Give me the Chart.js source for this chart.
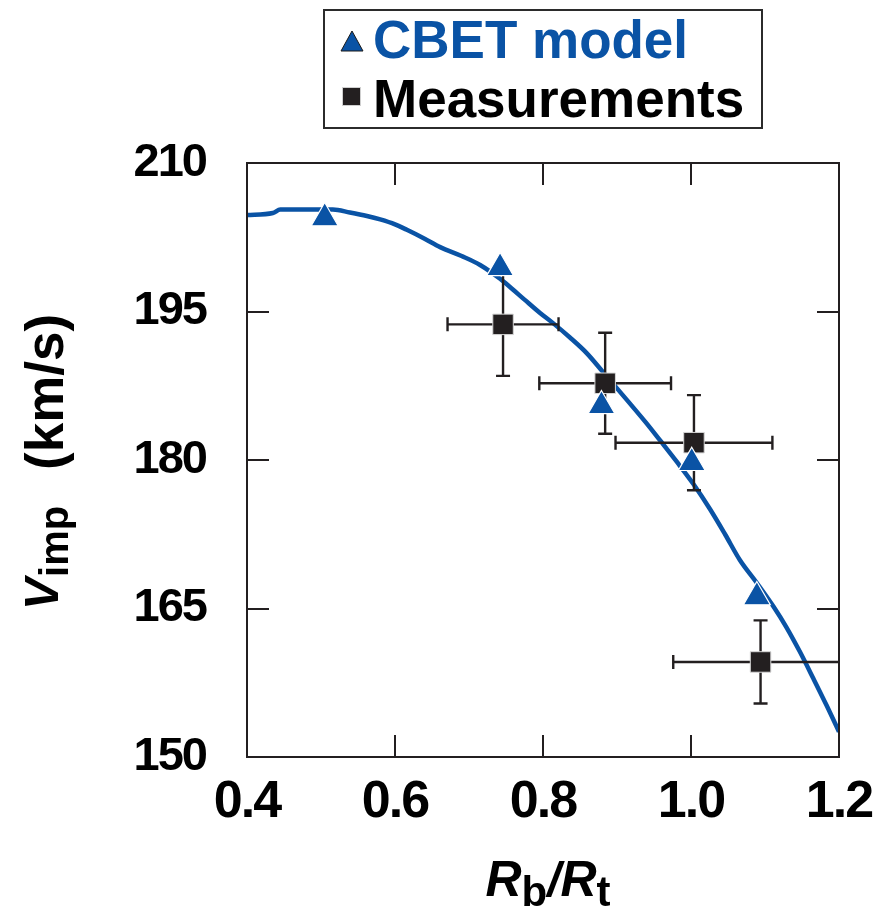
<!DOCTYPE html>
<html>
<head>
<meta charset="utf-8">
<script src="https://cdn.jsdelivr.net/npm/chart.js@4.4.1/dist/chart.umd.min.js"></script>
<style>
  html, body { margin: 0; padding: 0; background: #ffffff; }
  #wrap { position: relative; width: 877px; height: 911px; }
  #legend {
    position: absolute; left: 323px; top: 9px; width: 440px; height: 120px;
    border: 2px solid #2b2b2b; box-sizing: border-box; background: #fff;
    font-family: "Liberation Sans", Arial, Helvetica, sans-serif; font-weight: bold; font-size: 53px;
  }
  #legend .txt { position: absolute; left: 48px; line-height: 53px; white-space: nowrap; }
  #legend svg { position: absolute; }
</style>
</head>
<body>
<div id="wrap">
  <canvas id="c" width="877" height="911"></canvas>
  <div id="legend">
    <svg style="left:15px; top:19px;" width="24" height="22" viewBox="0 0 24 22"><polygon points="12,1 23,21 1,21" fill="#0a53a5" stroke="#1b1b1b" stroke-width="1"/></svg>
    <span class="txt" style="top:2px; color:#0a53a5;">CBET model</span>
    <svg style="left:17px; top:76px;" width="19" height="19" viewBox="0 0 19 19"><rect x="0.5" y="0.5" width="18" height="18" fill="#231f20" stroke="#cfcfcf" stroke-width="1"/></svg>
    <span class="txt" style="top:61px; color:#000;">Measurements</span>
  </div>
</div>
<script>
// ---------------- data ----------------
const curveX = [0.400, 0.435, 0.445, 0.480, 0.516, 0.539, 0.562, 0.580, 0.600, 0.616, 0.640, 0.661, 0.690, 0.715, 0.742, 0.755, 0.775, 0.796, 0.814, 0.836, 0.859, 0.881, 0.913, 0.940, 0.958, 0.981, 1.003, 1.026, 1.046, 1.066, 1.089, 1.111, 1.129, 1.147, 1.165, 1.183, 1.200];
const curveY = [204.75, 204.95, 205.30, 205.30, 205.30, 205.00, 204.65, 204.30, 203.80, 203.25, 202.35, 201.50, 200.60, 199.70, 198.30, 197.50, 196.20, 194.85, 193.80, 192.40, 190.80, 188.90, 186.10, 183.70, 182.00, 179.80, 177.60, 175.00, 172.50, 169.90, 167.58, 165.25, 163.10, 160.65, 157.98, 155.25, 152.55];

const cbetX = [0.505, 0.742, 0.879, 1.001, 1.089];
const cbetY = [204.44, 199.40, 185.46, 179.72, 166.16];

const measX = [0.746, 0.884, 1.004, 1.094];
const measY = [193.70, 187.75, 181.75, 159.60];
const measXErr = [0.075, 0.089, 0.106, 0.118];
const measYErr = [5.2, 5.1, 4.8, 4.2];

const xTickValues = [0.4, 0.6, 0.8, 1.0, 1.2];
const yTickValues = [150, 165, 180, 195, 210];

// ---------------- styling ----------------
const BLUE = '#0a53a5';
const DARK = '#231f20';
const FONT = '"Liberation Sans", Arial, Helvetica, sans-serif';

const toPts = (xs, ys) => xs.map((x, i) => ({ x: x, y: ys[i] }));

const spacingPlugin = {
  id: 'tickSpacing',
  beforeDraw(chart) { chart.ctx.letterSpacing = '-2px'; },
  beforeDatasetsDraw(chart) { chart.ctx.letterSpacing = '0px'; }
};

const errorBarPlugin = {
  id: 'errorBars',
  beforeDatasetDraw(chart, args) {
    if (args.index !== 1) return;
    const { ctx, chartArea: a, scales: { x, y } } = chart;
    ctx.save();
    ctx.beginPath();
    ctx.rect(a.left, a.top, a.right - a.left, a.bottom - a.top);
    ctx.clip();
    ctx.strokeStyle = DARK;
    ctx.lineWidth = 2.4;
    const cap = 7;
    measX.forEach((mx, i) => {
      const px = x.getPixelForValue(mx), py = y.getPixelForValue(measY[i]);
      const xl = x.getPixelForValue(mx - measXErr[i]), xr = x.getPixelForValue(mx + measXErr[i]);
      const yt = y.getPixelForValue(measY[i] + measYErr[i]), yb = y.getPixelForValue(measY[i] - measYErr[i]);
      ctx.beginPath();
      ctx.moveTo(xl, py); ctx.lineTo(xr, py);
      ctx.moveTo(xl, py - cap); ctx.lineTo(xl, py + cap);
      ctx.moveTo(xr, py - cap); ctx.lineTo(xr, py + cap);
      ctx.moveTo(px, yt); ctx.lineTo(px, yb);
      ctx.moveTo(px - cap, yt); ctx.lineTo(px + cap, yt);
      ctx.moveTo(px - cap, yb); ctx.lineTo(px + cap, yb);
      ctx.stroke();
    });
    ctx.restore();
  }
};

const framePlugin = {
  id: 'frame',
  afterDraw(chart) {
    const { ctx, chartArea: a, scales: { x, y } } = chart;
    ctx.save();
    ctx.letterSpacing = '0px';
    ctx.strokeStyle = DARK;
    ctx.lineWidth = 2;
    ctx.strokeRect(a.left, a.top, a.right - a.left, a.bottom - a.top);
    const tl = 22;
    ctx.beginPath();
    xTickValues.slice(1, -1).forEach(v => {
      const px = Math.round(x.getPixelForValue(v));
      ctx.moveTo(px, a.bottom); ctx.lineTo(px, a.bottom - tl);
      ctx.moveTo(px, a.top); ctx.lineTo(px, a.top + tl);
    });
    yTickValues.slice(1, -1).forEach(v => {
      const py = Math.round(y.getPixelForValue(v));
      ctx.moveTo(a.left, py); ctx.lineTo(a.left + tl, py);
      ctx.moveTo(a.right, py); ctx.lineTo(a.right - tl, py);
    });
    ctx.stroke();

    // x-axis title: R_b/R_t
    ctx.fillStyle = '#000';
    ctx.textBaseline = 'alphabetic';
    const parts = [
      { t: 'R', f: 'italic bold 50px ' + FONT, dy: 0 },
      { t: 'b', f: 'bold 42px ' + FONT, dy: 10 },
      { t: '/', f: 'italic bold 48px ' + FONT, dy: 0 },
      { t: 'R', f: 'italic bold 50px ' + FONT, dy: 0 },
      { t: 't', f: 'bold 42px ' + FONT, dy: 10 }
    ];
    let total = 0;
    parts.forEach(p => { ctx.font = p.f; p.w = ctx.measureText(p.t).width; total += p.w; });
    let cx = 548 - total / 2;
    const base = 896;
    parts.forEach(p => { ctx.font = p.f; ctx.fillText(p.t, cx, base + p.dy); cx += p.w; });

    // y-axis title: V_imp (km/s)
    ctx.rotate(-Math.PI / 2);
    ctx.font = 'italic bold 48px ' + FONT;
    const vW = ctx.measureText('V').width;
    ctx.fillText('V', -610, 58);
    ctx.font = 'bold 40px ' + FONT;
    ctx.fillText('imp', -610 + vW + 1, 68);
    ctx.font = 'bold 53px ' + FONT;
    ctx.fillText('(km/s)', -470, 63);
    ctx.restore();
  }
};

new Chart(document.getElementById('c'), {
  type: 'scatter',
  data: {
    datasets: [
      {
        label: 'CBET model',
        data: toPts(cbetX, cbetY),
        pointStyle: 'triangle',
        pointRadius: 15.5,
        backgroundColor: BLUE,
        borderColor: '#ffffff',
        borderWidth: 1.2,
        order: 0
      },
      {
        label: 'Measurements',
        data: toPts(measX, measY),
        pointStyle: 'rect',
        pointRadius: 14.5,
        backgroundColor: DARK,
        borderColor: '#d8d8d8',
        borderWidth: 1,
        order: 1
      },
      {
        type: 'line',
        label: 'curve',
        data: toPts(curveX, curveY),
        borderColor: BLUE,
        borderWidth: 4.5,
        pointRadius: 0,
        cubicInterpolationMode: 'monotone',
        fill: false,
        order: 2
      }
    ]
  },
  options: {
    responsive: false,
    animation: false,
    devicePixelRatio: 1,
    layout: { padding: { left: 0, top: 163, right: 38, bottom: 0 } },
    plugins: { legend: { display: false }, tooltip: { enabled: false } },
    scales: {
      x: {
        type: 'linear', min: 0.4, max: 1.2,
        afterBuildTicks: s => { s.ticks = xTickValues.map(v => ({ value: v })); },
        afterFit: s => { s.height = 154; s.paddingLeft = 0; s.paddingRight = 0; },
        grid: { display: false, drawTicks: false },
        border: { display: false },
        ticks: {
          color: '#000', padding: 20,
          font: { family: FONT, size: 52, weight: 'bold', lineHeight: 1 },
          callback: v => Number(v).toFixed(1),
          maxRotation: 0, autoSkip: false
        }
      },
      y: {
        type: 'linear', min: 150, max: 210,
        afterBuildTicks: s => { s.ticks = yTickValues.map(v => ({ value: v })); },
        afterFit: s => { s.width = 247; s.paddingTop = 0; s.paddingBottom = 0; },
        grid: { display: false, drawTicks: false },
        border: { display: false },
        ticks: {
          color: '#000', padding: 41,
          font: { family: FONT, size: 47, weight: 'bold', lineHeight: 1 },
          callback: v => String(v)
        }
      }
    }
  },
  plugins: [spacingPlugin, errorBarPlugin, framePlugin]
});
</script>
</body>
</html>
